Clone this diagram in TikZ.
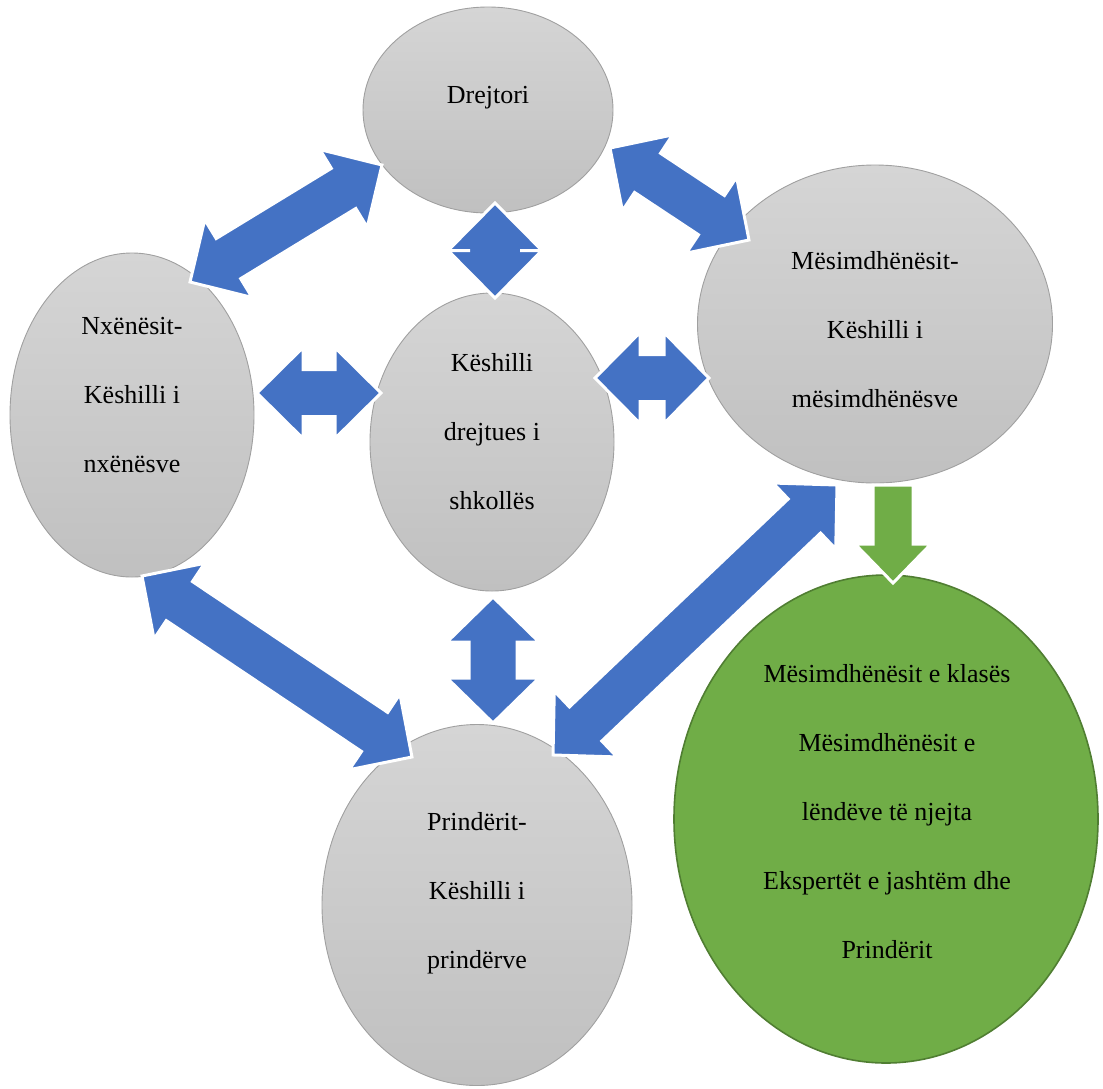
\documentclass[tikz,border=0pt]{standalone}
\usepackage{fontspec}
\setmainfont{Liberation Serif}
\usetikzlibrary{shapes.geometric,calc}
\definecolor{arrblue}{RGB}{68,114,196}
\definecolor{arrgreen}{RGB}{112,173,71}
\definecolor{greenedge}{RGB}{80,126,50}
\definecolor{graytop}{RGB}{213,213,213}
\definecolor{graybot}{RGB}{192,192,192}
\definecolor{grayedge}{RGB}{160,160,160}
\tikzset{
  bubble/.style={ellipse, inner sep=0pt, top color=graytop, bottom color=graybot, draw=grayedge, line width=0.9pt},
  greenbubble/.style={ellipse, inner sep=0pt, fill=arrgreen, draw=greenedge, line width=1.6pt},
  lbl/.style={font=\fontsize{26}{69}\selectfont, align=center, inner sep=0pt, anchor=base},
  bluearrow/.style={fill=arrblue, draw=white, line width=3pt, line join=miter},
  greenarrow/.style={fill=arrgreen, draw=white, line width=3pt, line join=miter}
}
% double block arrow between two named points: #1 from, #2 to, #3 shaft width, #4 head width, #5 head length, #6 style
\newcommand\dblblockarrow[6]{%
  \path let \p1=(#1), \p2=(#2) in \pgfextra{%
    \pgfmathsetmacro\baAng{atan2(\y2-\y1,\x2-\x1)}%
    \pgfmathsetmacro\baLen{veclen(\x2-\x1,\y2-\y1)}%
    \xdef\baAngG{\baAng}\xdef\baLenG{\baLen}\xdef\baXG{\x1}\xdef\baYG{\y1}};
  \filldraw[#6, shift={(\baXG,\baYG)}, rotate=\baAngG]
    (0pt,0pt) -- ({#5*1pt},{#4*0.5pt}) -- ({#5*1pt},{#3*0.5pt})
    -- ({\baLenG*1pt-#5*1pt},{#3*0.5pt}) -- ({\baLenG*1pt-#5*1pt},{#4*0.5pt})
    -- ({\baLenG*1pt},0pt)
    -- ({\baLenG*1pt-#5*1pt},{-#4*0.5pt}) -- ({\baLenG*1pt-#5*1pt},{-#3*0.5pt})
    -- ({#5*1pt},{-#3*0.5pt}) -- ({#5*1pt},{-#4*0.5pt}) -- cycle;
}
% single block arrow: #1 tail, #2 tip
\newcommand\sglblockarrow[6]{%
  \path let \p1=(#1), \p2=(#2) in \pgfextra{%
    \pgfmathsetmacro\baAng{atan2(\y2-\y1,\x2-\x1)}%
    \pgfmathsetmacro\baLen{veclen(\x2-\x1,\y2-\y1)}%
    \xdef\baAngG{\baAng}\xdef\baLenG{\baLen}\xdef\baXG{\x1}\xdef\baYG{\y1}};
  \filldraw[#6, shift={(\baXG,\baYG)}, rotate=\baAngG]
    (0pt,{#3*0.5pt}) -- ({\baLenG*1pt-#5*1pt},{#3*0.5pt}) -- ({\baLenG*1pt-#5*1pt},{#4*0.5pt})
    -- ({\baLenG*1pt},0pt)
    -- ({\baLenG*1pt-#5*1pt},{-#4*0.5pt}) -- ({\baLenG*1pt-#5*1pt},{-#3*0.5pt})
    -- (0pt,{-#3*0.5pt}) -- cycle;
}
\begin{document}
\begin{tikzpicture}[x=1pt,y=-1pt]
\useasboundingbox (0,0) rectangle (1103,1088);
% bubbles
\node[bubble, minimum width=250pt, minimum height=206pt] (drej) at (488,110) {};
\node[bubble, minimum width=244pt, minimum height=324pt] (nx) at (132,415) {};
\node[bubble, minimum width=244pt, minimum height=298pt] (kd) at (492,442) {};
\node[bubble, minimum width=355pt, minimum height=318pt] (mes) at (875,324) {};
\node[bubble, minimum width=310pt, minimum height=361pt] (pr) at (477,905) {};
\node[greenbubble, minimum width=424pt, minimum height=488pt] (gr) at (886,819) {};
% labels (base anchor = baseline of the last line)
\node[lbl] (tdrej) at (488,103) {Drejtori};
\node[lbl] (tnx) at (132,472) {Nxënësit-\\Këshilli i\\nxënësve};
\node[lbl] (tkd) at (492,509) {Këshilli\\drejtues i\\shkollës};
\node[lbl] (tmes) at (875,407) {Mësimdhënësit-\\Këshilli i\\mësimdhënësve};
\node[lbl] (tpr) at (477,968) {Prindërit-\\Këshilli i\\prindërve};
\node[lbl] (tgr) at (887,958) {Mësimdhënësit e klasës\\Mësimdhënësit e\\lëndëve të njejta\\Ekspertët e jashtëm dhe\\Prindërit};
% arrow end points
\coordinate (a1) at (190,282);  \coordinate (a2) at (382,165);
\coordinate (b1) at (495,203);  \coordinate (b2) at (495,298);
\coordinate (c1) at (257,393);  \coordinate (c2) at (381,393);
\coordinate (d1) at (595,378);  \coordinate (d2) at (709,378);
\coordinate (e1) at (610,148);  \coordinate (e2) at (749,240);
\coordinate (f1) at (493,597);  \coordinate (f2) at (493,723);
\coordinate (g1) at (142,576);  \coordinate (g2) at (412,757);
\coordinate (h1) at (837,485);  \coordinate (h2) at (553,755);
\coordinate (i1) at (893,485);  \coordinate (i2) at (893,583);
% arrows
\dblblockarrow{a1}{a2}{47}{91}{45}{bluearrow}
\dblblockarrow{b1}{b2}{50}{94}{47.5}{bluearrow}
\dblblockarrow{c1}{c2}{47}{91}{46}{bluearrow}
\dblblockarrow{d1}{d2}{47}{91}{45}{bluearrow}
\dblblockarrow{e1}{e2}{47}{91}{45}{bluearrow}
\dblblockarrow{f1}{f2}{48}{92}{45}{bluearrow}
\dblblockarrow{g1}{g2}{47}{91}{45}{bluearrow}
\dblblockarrow{h1}{h2}{47}{91}{45}{bluearrow}
\sglblockarrow{i1}{i2}{40}{76}{39}{greenarrow}
\end{tikzpicture}
\end{document}
